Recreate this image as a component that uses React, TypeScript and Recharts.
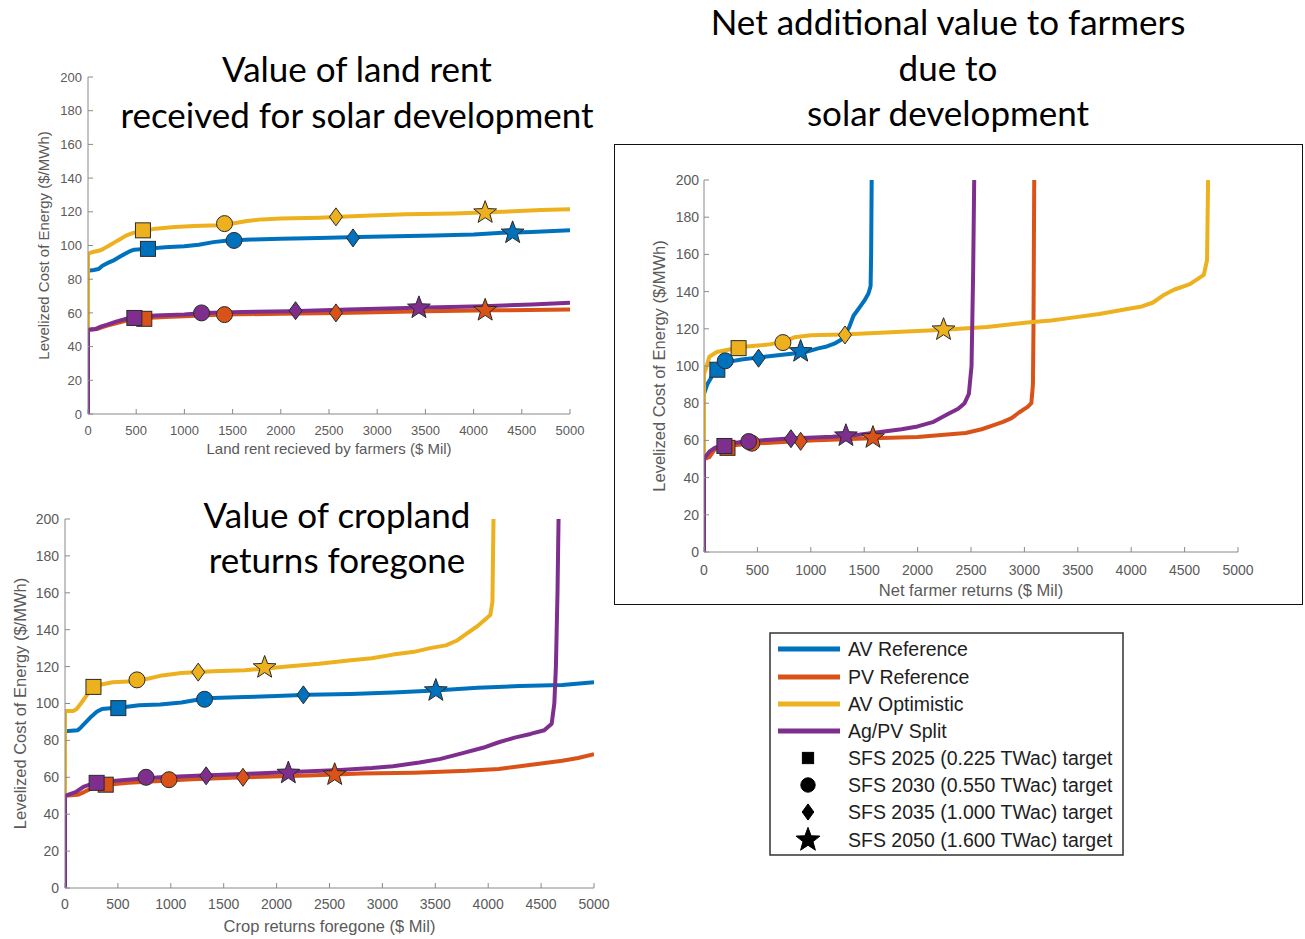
import React from "react";
import { ComposedChart, Line, Scatter, XAxis, YAxis } from "recharts";

type Pt = [number, number];

const xTicks = [0, 500, 1000, 1500, 2000, 2500, 3000, 3500, 4000, 4500, 5000];
const yTicks = [0, 20, 40, 60, 80, 100, 120, 140, 160, 180, 200];

const SERIES_NAMES = ["AV Reference", "PV Reference", "AV Optimistic", "Ag/PV Split"];
const SERIES_COLORS = ["#0072BD", "#D95319", "#EDB120", "#7E2F8E"];
const TARGET_KINDS = ["square", "circle", "diamond", "star"];
const TARGET_LABELS = [
  "SFS 2025 (0.225 TWac) target",
  "SFS 2030 (0.550 TWac) target",
  "SFS 2035 (1.000 TWac) target",
  "SFS 2050 (1.600 TWac) target",
];
const Y_LABEL = "Levelized Cost of Energy ($/MWh)";

// --- land rent received ---
const rentAvRef: Pt[] = [[0, 0], [0, 85], [60, 85.5], [110, 86], [150, 88], [200, 89.5], [260, 91], [320, 93], [380, 95], [430, 96.5], [480, 97.5], [600, 98], [800, 99], [1000, 99.5], [1150, 100.5], [1300, 102], [1450, 103], [1700, 103.5], [2000, 104], [2400, 104.5], [2800, 105], [3200, 105.5], [3600, 106], [4000, 106.5], [4300, 107.5], [4600, 108], [5000, 109]];
const rentPvRef: Pt[] = [[0, 0], [0, 50], [100, 50.5], [150, 51.5], [200, 52.5], [300, 54], [400, 55.5], [500, 56.5], [600, 57], [800, 57.5], [1000, 58], [1400, 59], [2000, 59.5], [2600, 60], [3500, 61], [4200, 61.5], [5000, 62]];
const rentAvOpt: Pt[] = [[0, 0], [0, 95], [40, 96], [120, 97], [160, 98], [220, 100], [280, 102], [340, 104], [400, 106], [470, 107.5], [560, 108.5], [700, 110], [900, 111], [1100, 111.5], [1350, 112], [1500, 113], [1650, 114.5], [1800, 115.5], [2000, 116], [2400, 116.5], [2800, 117.5], [3300, 118.5], [3800, 119], [4300, 120], [4700, 121], [5000, 121.5]];
const rentSplit: Pt[] = [[0, 0], [0, 50], [80, 50.5], [140, 52], [200, 53], [300, 55], [400, 56.5], [500, 57.5], [700, 58.5], [1000, 59], [1200, 60], [1600, 60.5], [2100, 61], [2700, 62], [3400, 63], [4100, 64], [4600, 65], [5000, 66]];

const rentAvRefTargets: Pt[] = [[622, 98], [1515, 103], [2749, 104.5], [4405, 107.5]];
const rentPvRefTargets: Pt[] = [[584, 56.5], [1416, 59], [2572, 60], [4120, 61.5]];
const rentAvOptTargets: Pt[] = [[570, 109], [1416, 113], [2572, 117], [4120, 119.5]];
const rentSplitTargets: Pt[] = [[481, 57], [1178, 60], [2153, 61.3], [3433, 63]];

// --- crop returns foregone ---
const cropAvRef: Pt[] = [[0, 0], [0, 85], [120, 85.5], [150, 87], [200, 90], [250, 93], [300, 95.5], [350, 97], [450, 97.5], [550, 98], [700, 99], [900, 99.5], [1100, 100.5], [1250, 102], [1400, 103], [1700, 103.5], [2000, 104], [2300, 104.8], [2700, 105.2], [3100, 106], [3500, 107], [3900, 108.5], [4300, 109.5], [4700, 110], [5000, 111.5]];
const cropPvRef: Pt[] = [[0, 0], [0, 50], [120, 50.5], [180, 52], [250, 54], [320, 55.5], [400, 56], [600, 57], [900, 58], [1200, 59], [1700, 60], [2300, 61], [2800, 62], [3300, 62.5], [3800, 63.5], [4100, 64.5], [4300, 66], [4500, 67.5], [4700, 69], [4850, 70.5], [5000, 72.5]];
const cropAvOpt: Pt[] = [[0, 0], [0, 96], [80, 96], [110, 97], [150, 100], [200, 104], [250, 108], [320, 110], [450, 111.5], [650, 112], [750, 113], [900, 115], [1100, 116.5], [1400, 117.5], [1700, 118], [1900, 119], [2100, 120], [2400, 121.5], [2700, 123.5], [2900, 124.5], [3100, 126.5], [3300, 128], [3450, 130], [3600, 131.5], [3700, 134], [3800, 138], [3900, 142], [3960, 145], [4020, 148], [4040, 155], [4050, 200]];
const cropSplit: Pt[] = [[0, 0], [0, 50], [100, 52], [180, 55], [280, 57], [450, 58], [650, 59], [900, 60], [1300, 61], [1800, 62], [2200, 63], [2600, 64], [2900, 65], [3100, 66], [3350, 68], [3550, 70], [3750, 73], [3950, 76], [4100, 79], [4250, 81.5], [4400, 83.5], [4530, 85.5], [4600, 89], [4625, 100], [4640, 120], [4655, 160], [4665, 200]];

const cropAvRefTargets: Pt[] = [[504, 97.5], [1319, 102.3], [2253, 104.7], [3505, 107]];
const cropPvRefTargets: Pt[] = [[385, 56], [983, 58.7], [1682, 60], [2549, 61.4]];
const cropAvOptTargets: Pt[] = [[269, 109], [680, 112.8], [1259, 117], [1887, 119.5]];
const cropSplitTargets: Pt[] = [[299, 57], [766, 60], [1334, 60.8], [2111, 62.3]];

// --- net farmer returns ---
const netAvRef: Pt[] = [[0, 0], [0, 85], [30, 90], [80, 95], [130, 98], [180, 100.5], [250, 102.5], [350, 103.5], [500, 104.5], [650, 105.5], [800, 106.5], [950, 107.5], [1070, 109.5], [1150, 110.5], [1220, 112], [1280, 114], [1320, 117], [1360, 121], [1400, 127], [1450, 131], [1500, 135], [1540, 139], [1560, 143], [1565, 160], [1570, 200]];
const netPvRef: Pt[] = [[0, 0], [0, 50], [50, 51], [100, 55], [200, 57], [400, 58], [700, 59], [1000, 60], [1500, 61], [2000, 61.8], [2250, 63], [2450, 64], [2600, 66], [2700, 68], [2800, 70], [2880, 72], [2950, 75], [3030, 78], [3065, 80], [3080, 90], [3085, 120], [3092, 200]];
const netAvOpt: Pt[] = [[0, 0], [0, 96], [15, 98], [50, 105], [120, 107.5], [250, 109], [400, 110.5], [600, 111.5], [750, 113], [850, 115.5], [1000, 116.5], [1300, 117], [1600, 117.8], [2000, 118.8], [2250, 119.5], [2650, 121], [3050, 123.5], [3250, 124.5], [3450, 126], [3700, 128], [3950, 130.5], [4100, 132], [4200, 134], [4300, 138], [4400, 141], [4550, 144], [4680, 149], [4710, 157], [4720, 200]];
const netSplit: Pt[] = [[0, 0], [0, 50], [50, 54], [100, 56], [200, 58], [400, 59.5], [800, 61], [1200, 62], [1450, 63], [1650, 64.5], [1850, 66], [2000, 67.5], [2150, 70], [2280, 74], [2380, 77], [2440, 80], [2480, 85], [2505, 100], [2520, 150], [2530, 200]];

const netAvRefTargets: Pt[] = [[125, 98], [199, 102.8], [511, 104.2], [905, 107.8]];
const netPvRefTargets: Pt[] = [[220, 56], [448, 58.5], [905, 59.5], [1582, 61.5]];
const netAvOptTargets: Pt[] = [[324, 109.6], [739, 112.6], [1320, 116.7], [2243, 119.5]];
const netSplitTargets: Pt[] = [[191, 57], [419, 59.4], [814, 60.9], [1329, 62.5]];

const AXIS = "#8a8a8a";
const TICK = "#5a5a5a";
const FONT = "'Liberation Sans', Arial, sans-serif";
const TITLE_FONT = "Lato, 'Open Sans', sans-serif";

const toXY = (pts: Pt[]) => pts.map(([x, y]) => ({ x, y }));
const toTargets = (pts: Pt[]) => pts.map(([x, y], i) => ({ x, y, kind: TARGET_KINDS[i] }));

const starPoints = (cx: number, cy: number, outer: number, inner: number) => {
  const pts: string[] = [];
  for (let i = 0; i < 10; i++) {
    const r = i % 2 === 0 ? outer : inner;
    const a = -Math.PI / 2 + (i * Math.PI) / 5;
    pts.push(`${cx + r * Math.cos(a)},${cy + r * Math.sin(a)}`);
  }
  return pts.join(" ");
};

const TargetMark = ({ cx, cy, kind, fill, stroke = "#2a2a2a", scale = 1 }: any) => {
  const s = scale;
  if (kind === "square")
    return <rect x={cx - 7.5 * s} y={cy - 7.5 * s} width={15 * s} height={15 * s} fill={fill} stroke={stroke} strokeWidth={1} />;
  if (kind === "circle") return <circle cx={cx} cy={cy} r={8 * s} fill={fill} stroke={stroke} strokeWidth={1} />;
  if (kind === "diamond")
    return (
      <polygon
        points={`${cx},${cy - 9 * s} ${cx + 6.5 * s},${cy} ${cx},${cy + 9 * s} ${cx - 6.5 * s},${cy}`}
        fill={fill}
        stroke={stroke}
        strokeWidth={1}
      />
    );
  return <polygon points={starPoints(cx, cy, 12 * s, 5 * s)} fill={fill} stroke={stroke} strokeWidth={1} />;
};

interface CurveChartProps {
  left: number;
  top: number;
  width: number;
  height: number;
  margin: { top: number; right: number; bottom: number; left: number };
  yAxisWidth: number;
  xAxisHeight: number;
  xLabel: string;
  curves: Pt[][];
  targets: Pt[][];
  tickFont: number;
  labelFont: number;
  xTickMargin: number;
  yTickMargin: number;
  yLabelOffset: number;
}

const CurveChart = ({
  left,
  top,
  width,
  height,
  margin,
  yAxisWidth,
  xAxisHeight,
  xLabel,
  curves,
  targets,
  tickFont,
  labelFont,
  xTickMargin,
  yTickMargin,
  yLabelOffset,
}: CurveChartProps) => (
  <div style={{ position: "absolute", left, top }}>
    <ComposedChart width={width} height={height} margin={margin}>
      <XAxis
        type="number"
        dataKey="x"
        domain={[0, 5000]}
        ticks={xTicks}
        interval={0}
        allowDataOverflow
        height={xAxisHeight}
        stroke={AXIS}
        tickSize={-5}
        tickMargin={xTickMargin}
        tick={{ fill: TICK, fontSize: tickFont }}
        label={{ value: xLabel, position: "insideBottom", offset: 0, fill: TICK, fontSize: labelFont }}
      />
      <YAxis
        type="number"
        dataKey="y"
        domain={[0, 200]}
        ticks={yTicks}
        interval={0}
        allowDataOverflow
        width={yAxisWidth}
        stroke={AXIS}
        tickSize={-5}
        tickMargin={yTickMargin}
        tick={{ fill: TICK, fontSize: tickFont }}
        label={{
          value: Y_LABEL,
          angle: -90,
          position: "insideLeft",
          offset: yLabelOffset,
          fill: TICK,
          fontSize: labelFont,
          style: { textAnchor: "middle" },
        }}
      />
      {curves.map((c, i) => (
        <Line
          key={SERIES_NAMES[i]}
          name={SERIES_NAMES[i]}
          data={toXY(c)}
          dataKey="y"
          type="linear"
          stroke={SERIES_COLORS[i]}
          strokeWidth={4}
          strokeLinejoin="round"
          dot={false}
          activeDot={false}
          isAnimationActive={false}
        />
      ))}
      {targets.map((t, i) => (
        <Scatter
          key={`t-${SERIES_NAMES[i]}`}
          data={toTargets(t)}
          fill={SERIES_COLORS[i]}
          isAnimationActive={false}
          shape={(p: any) => <TargetMark cx={p.cx} cy={p.cy} kind={p.payload.kind} fill={SERIES_COLORS[i]} />}
        />
      ))}
    </ComposedChart>
  </div>
);

const Title = ({ left, top, width, lines, lineHeight }: any) => (
  <div
    style={{
      position: "absolute",
      left,
      top,
      width,
      textAlign: "center",
      fontFamily: TITLE_FONT,
      fontSize: 35,
      lineHeight: `${lineHeight}px`,
      color: "#000",
      whiteSpace: "nowrap",
    }}
  >
    {lines.map((l: string) => (
      <div key={l}>{l}</div>
    ))}
  </div>
);

const LegendBox = () => {
  const rows = [17, 45, 72, 99, 126, 153, 180, 208];
  return (
    <svg width={356} height={226} style={{ position: "absolute", left: 769, top: 632 }}>
      <rect x={1} y={1} width={353} height={222} fill="#fff" stroke="#333" strokeWidth={1.5} />
      {SERIES_NAMES.map((n, i) => (
        <g key={n}>
          <line x1={9} x2={71} y1={rows[i]} y2={rows[i]} stroke={SERIES_COLORS[i]} strokeWidth={5} />
          <text x={79} y={rows[i]} dominantBaseline="central" fontSize={19.5} fill="#1e1e1e" fontFamily={FONT}>
            {n}
          </text>
        </g>
      ))}
      {TARGET_LABELS.map((n, i) => (
        <g key={n}>
          <TargetMark cx={39} cy={rows[i + 4]} kind={TARGET_KINDS[i]} fill="#000" stroke="#000" scale={i === 0 ? 0.75 : i === 3 ? 1.05 : 0.9} />
          <text x={79} y={rows[i + 4]} dominantBaseline="central" fontSize={19.5} fill="#1e1e1e" fontFamily={FONT}>
            {n}
          </text>
        </g>
      ))}
    </svg>
  );
};

export default function App() {
  return (
    <div
      style={{
        position: "absolute",
        left: 0,
        top: 0,
        width: 1305,
        height: 939,
        background: "#fff",
        fontFamily: FONT,
        overflow: "hidden",
      }}
    >
      <CurveChart
        left={0}
        top={40}
        width={600}
        height={430}
        margin={{ top: 37, right: 30, bottom: 16, left: 0 }}
        yAxisWidth={88}
        xAxisHeight={40}
        xLabel="Land rent recieved by farmers ($ Mil)"
        curves={[rentAvRef, rentPvRef, rentAvOpt, rentSplit]}
        targets={[rentAvRefTargets, rentPvRefTargets, rentAvOptTargets, rentSplitTargets]}
        tickFont={13}
        labelFont={15}
        xTickMargin={17}
        yTickMargin={11}
        yLabelOffset={44}
      />
      <CurveChart
        left={0}
        top={490}
        width={620}
        height={449}
        margin={{ top: 29, right: 26, bottom: 7, left: 0 }}
        yAxisWidth={65}
        xAxisHeight={44}
        xLabel="Crop returns foregone ($ Mil)"
        curves={[cropAvRef, cropPvRef, cropAvOpt, cropSplit]}
        targets={[cropAvRefTargets, cropPvRefTargets, cropAvOptTargets, cropSplitTargets]}
        tickFont={14}
        labelFont={16.5}
        xTickMargin={16}
        yTickMargin={11}
        yLabelOffset={20}
      />
      <div
        style={{
          position: "absolute",
          left: 614,
          top: 144,
          width: 689,
          height: 461,
          boxSizing: "border-box",
          border: "1.5px solid #111",
        }}
      />
      <CurveChart
        left={614}
        top={144}
        width={688}
        height={460}
        margin={{ top: 36, right: 64, bottom: 8, left: 0 }}
        yAxisWidth={90}
        xAxisHeight={44}
        xLabel="Net farmer returns ($ Mil)"
        curves={[netAvRef, netPvRef, netAvOpt, netSplit]}
        targets={[netAvRefTargets, netPvRefTargets, netAvOptTargets, netSplitTargets]}
        tickFont={14}
        labelFont={16.5}
        xTickMargin={18}
        yTickMargin={10}
        yLabelOffset={45}
      />
      <Title left={107} top={45} width={500} lineHeight={46} lines={["Value of land rent", "received for solar development"]} />
      <Title left={87} top={492} width={500} lineHeight={45} lines={["Value of cropland", "returns foregone"]} />
      <Title left={698} top={-1} width={500} lineHeight={45.5} lines={["Net additional value to farmers", "due to", "solar development"]} />
      <LegendBox />
    </div>
  );
}
